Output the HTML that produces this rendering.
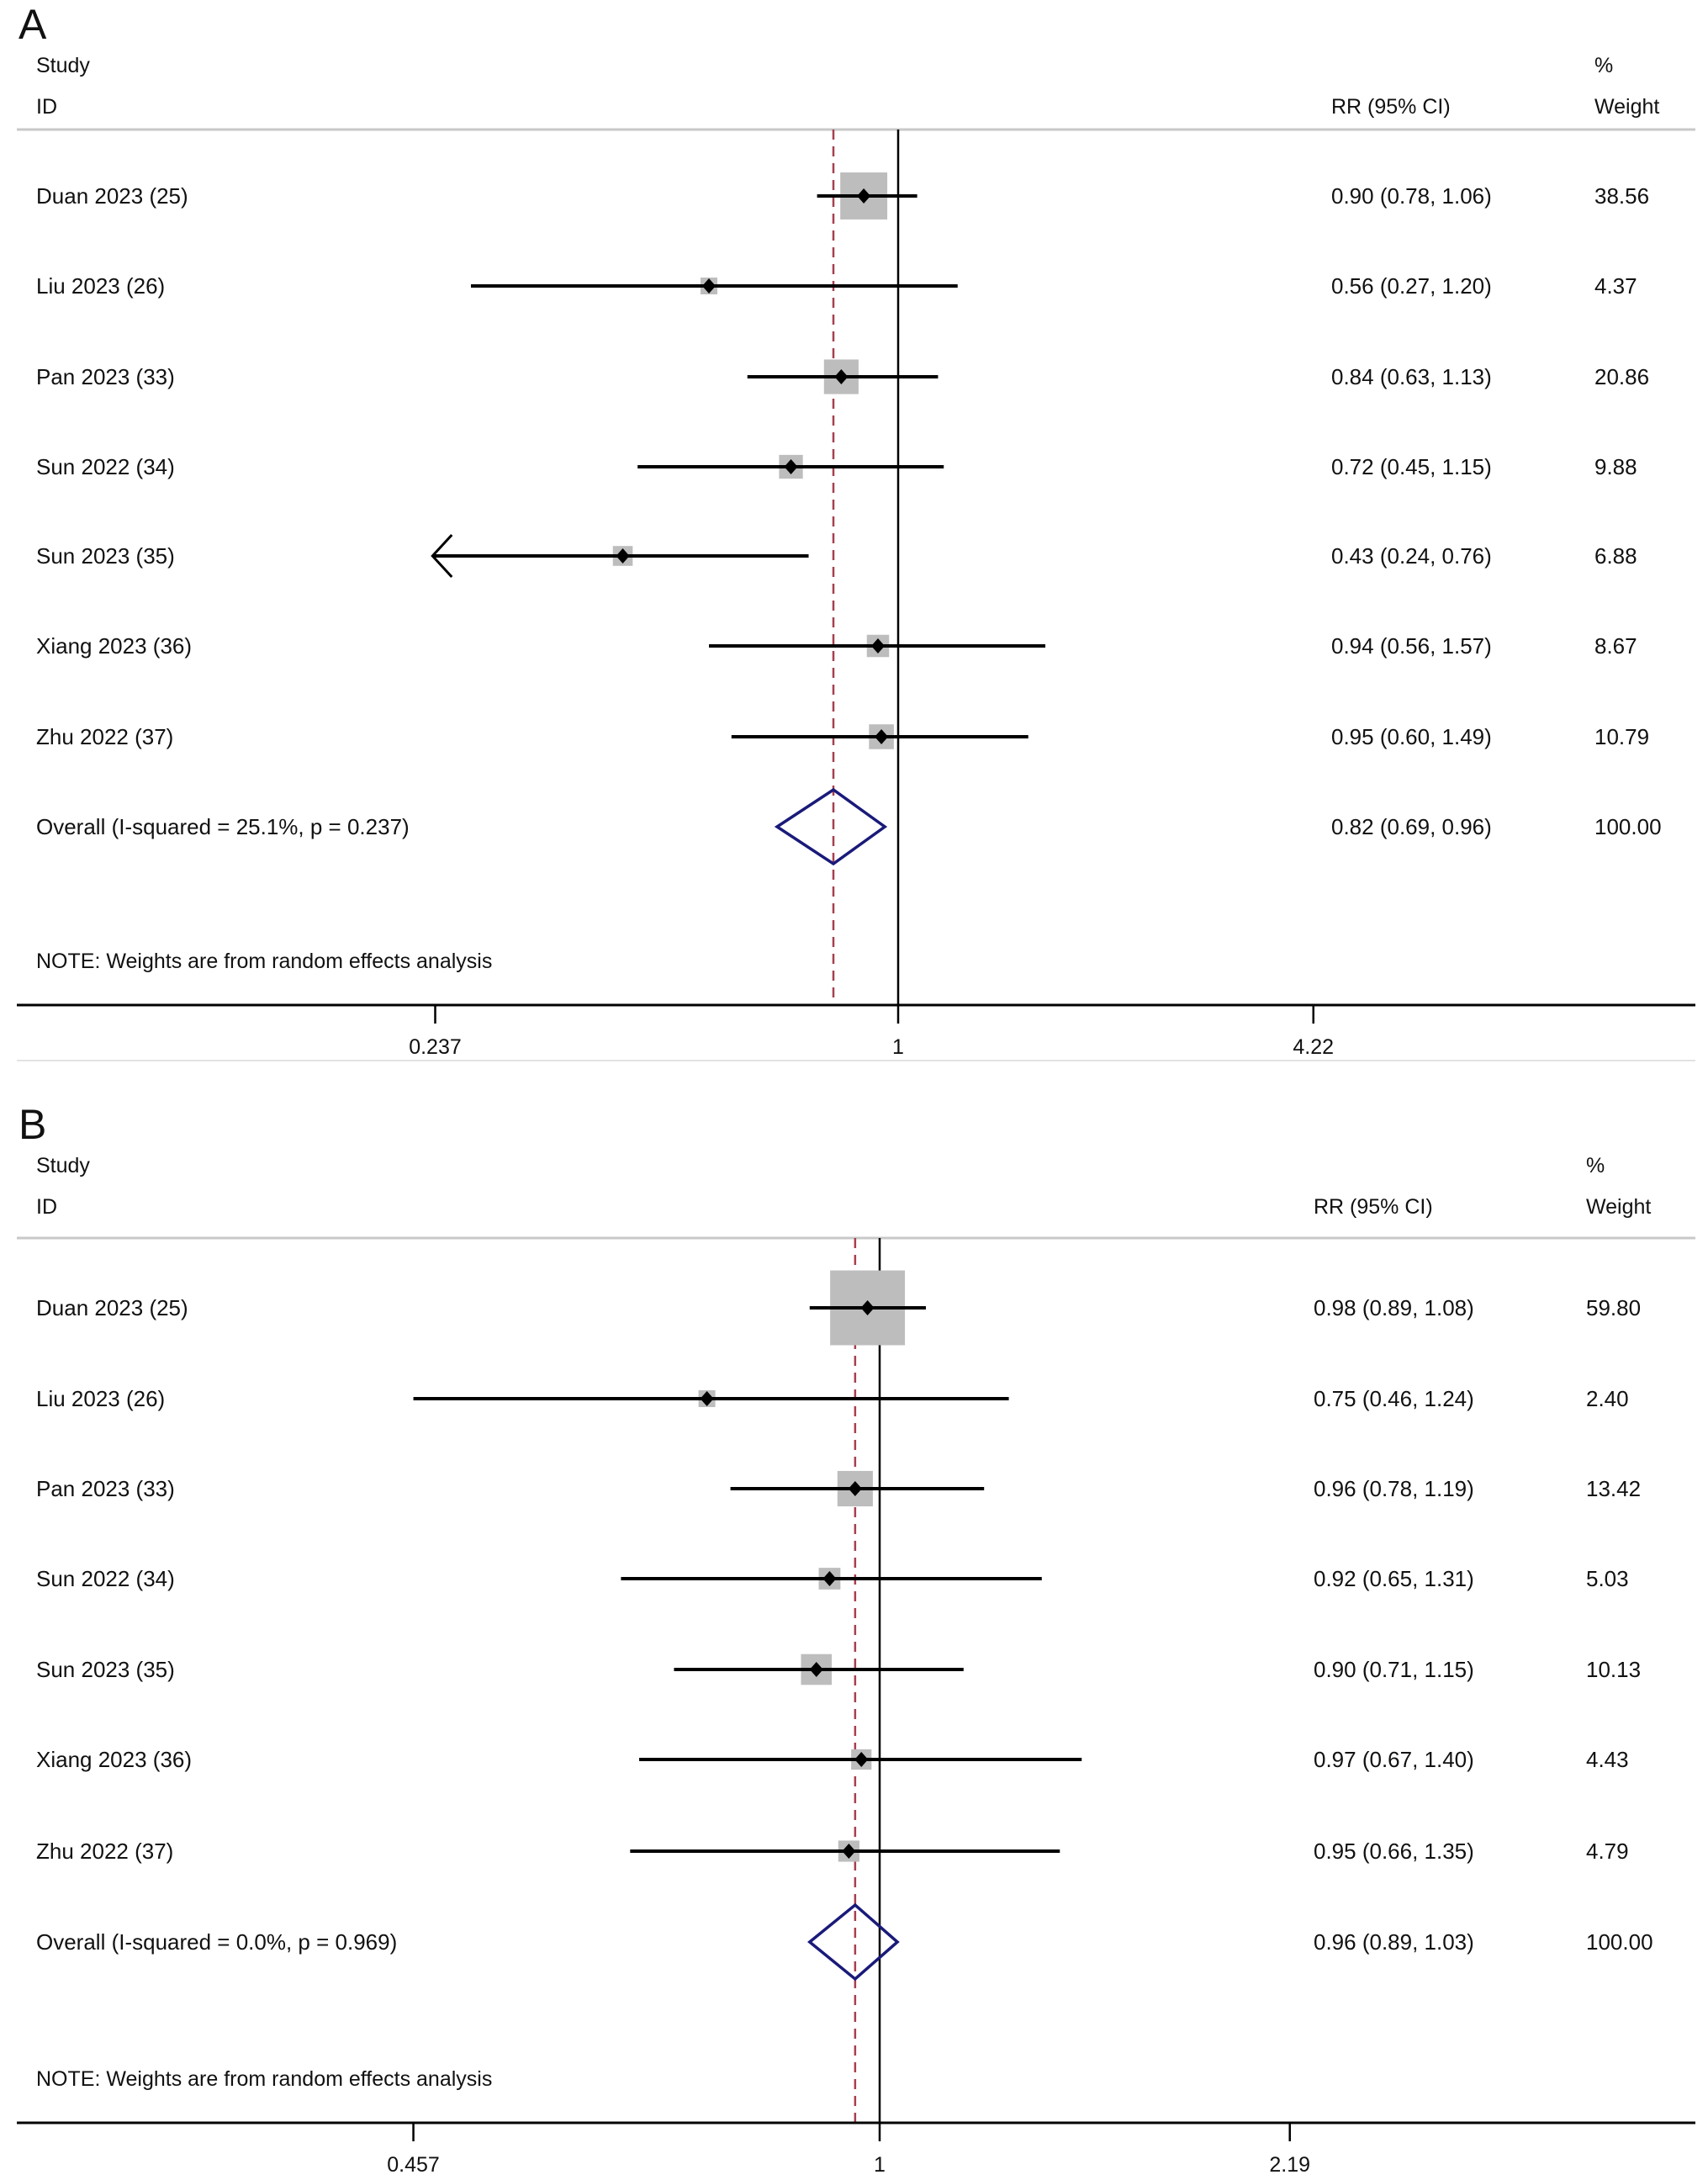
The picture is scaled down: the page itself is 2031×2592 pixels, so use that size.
<!DOCTYPE html>
<html><head><meta charset="utf-8"><style>
html,body{margin:0;padding:0;background:#fff;}
svg{display:block;font-family:"Liberation Sans",Arial,sans-serif;}
</style></head><body>
<svg id="chart" width="2031" height="2592" viewBox="0 0 2031 2592" xmlns="http://www.w3.org/2000/svg"></svg>
<script>
const studies = ["Duan 2023 (25)","Liu 2023 (26)","Pan 2023 (33)","Sun 2022 (34)","Sun 2023 (35)","Xiang 2023 (36)","Zhu 2022 (37)"];
const rrA = [0.90,0.56,0.84,0.72,0.43,0.94,0.95];
const loA = [0.78,0.27,0.63,0.45,0.24,0.56,0.60];
const hiA = [1.06,1.20,1.13,1.15,0.76,1.57,1.49];
const wA  = [38.56,4.37,20.86,9.88,6.88,8.67,10.79];
const ciTextA = ["0.90 (0.78, 1.06)","0.56 (0.27, 1.20)","0.84 (0.63, 1.13)","0.72 (0.45, 1.15)","0.43 (0.24, 0.76)","0.94 (0.56, 1.57)","0.95 (0.60, 1.49)"];
const wTextA = ["38.56","4.37","20.86","9.88","6.88","8.67","10.79"];
const overallA = [0.82,0.69,0.96];
const overallTextA = ["Overall  (I-squared = 25.1%, p = 0.237)","0.82 (0.69, 0.96)","100.00"];
const tickValsA = [0.242,1,3.57];
const tickLabelsA = ["0.237","1","4.22"];

const rrB = [0.98,0.75,0.96,0.92,0.90,0.97,0.95];
const loB = [0.89,0.46,0.78,0.65,0.71,0.67,0.66];
const hiB = [1.08,1.24,1.19,1.31,1.15,1.40,1.35];
const wB  = [59.80,2.40,13.42,5.03,10.13,4.43,4.79];
const ciTextB = ["0.98 (0.89, 1.08)","0.75 (0.46, 1.24)","0.96 (0.78, 1.19)","0.92 (0.65, 1.31)","0.90 (0.71, 1.15)","0.97 (0.67, 1.40)","0.95 (0.66, 1.35)"];
const wTextB = ["59.80","2.40","13.42","5.03","10.13","4.43","4.79"];
const overallB = [0.96,0.89,1.03];
const overallTextB = ["Overall  (I-squared = 0.0%, p = 0.969)","0.96 (0.89, 1.03)","100.00"];
const tickValsB = [0.460,1,1.98];
const tickLabelsB = ["0.457","1","2.19"];

const svg = document.getElementById('chart');
const NS = "http://www.w3.org/2000/svg";
function mk(tag, attrs, parent){
  const e = document.createElementNS(NS, tag);
  for (const k in attrs) e.setAttribute(k, attrs[k]);
  (parent||svg).appendChild(e); return e;
}
function txt(x,y,s,size,parent,anchor){
  const t = mk('text',{x:x,y:y,'font-size':size||26,fill:'#111','text-anchor':anchor||'start'},parent);
  t.textContent = s; return t;
}

function panel(cfg){
  const g = mk('g',{});
  
  
  const X = v => cfg.a + cfg.b*Math.log(v);
  const T = cfg.top;
  const letter = txt(22, T+26, cfg.letter, 50, g);
  
  
  const h1 = txt(43, T+66, "Study", 25, g);  
  const h2 = txt(43, T+115, "ID", 25, g);  
  const h3 = txt(cfg.ciX, T+115, "RR (95% CI)", 25, g);  
  const h4 = txt(cfg.wX, T+66, "%", 25, g);  
  const h5 = txt(cfg.wX, T+115, "Weight", 25, g);  
  const hl = mk('line',{x1:20,x2:2016,y1:cfg.headY,y2:cfg.headY,stroke:'#c8c8c8','stroke-width':3},g);
   
  const nl = mk('line',{x1:X(1),x2:X(1),y1:cfg.headY,y2:cfg.axisY,stroke:'#000','stroke-width':2.5},g);
   
  const dl = mk('line',{x1:X(cfg.ov[0]),x2:X(cfg.ov[0]),y1:cfg.headY,y2:cfg.axisY,stroke:'#a5404f','stroke-width':2.5,'stroke-dasharray':'12,8'},g);
   
  for (let i=0;i<studies.length;i++){
    const y = cfg.rows[i];
    const r = mk('g',{},g);
    
    
    txt(43, y+9, studies[i], 26, r);
    txt(cfg.ciX, y+9, cfg.ci[i], 26, r);
    txt(cfg.wX, y+9, cfg.wt[i], 26, r);
    const s = Math.max(cfg.k*Math.sqrt(cfg.w[i]), 20);
    const sq = mk('rect',{x:X(cfg.rr[i])-s/2,y:y-s/2,width:s,height:s,fill:'#bdbdbd'},r);
     
    const lo = X(cfg.lo[i]); const hi = X(cfg.hi[i]);
    const ci = mk('line',{x1:lo,x2:hi,y1:y,y2:y,stroke:'#000','stroke-width':4},r);
     
    if (cfg.arrow && i===cfg.arrow){
      const ar = mk('polyline',{points:`${lo+23},${y-25} ${lo},${y} ${lo+23},${y+25}`,fill:'none',stroke:'#000','stroke-width':3},r);
       
    }
    const px = X(cfg.rr[i]);
    const pt = mk('polygon',{points:`${px},${y-9} ${px+8},${y} ${px},${y+9} ${px-8},${y}`,fill:'#000'},r);
     
  }
  const oy = cfg.ovY;
  const og = mk('g',{},g);
   
  txt(43, oy+9, cfg.ovText[0], 26, og);
  txt(cfg.ciX, oy+9, cfg.ovText[1], 26, og);
  txt(cfg.wX, oy+9, cfg.ovText[2], 26, og);
  const dm = mk('polygon',{points:`${X(cfg.ov[1])},${oy} ${X(cfg.ov[0])},${oy-44} ${X(cfg.ov[2])},${oy} ${X(cfg.ov[0])},${oy+44}`,fill:'none',stroke:'#1a1a7a','stroke-width':3.5},og);
   
  const nt = txt(43, cfg.noteY+9, "NOTE: Weights are from random effects analysis", 25, g);
   
  const ax = mk('line',{x1:20,x2:2016,y1:cfg.axisY,y2:cfg.axisY,stroke:'#000','stroke-width':3},g);
   
  for (let j=0;j<cfg.ticks.length;j++){
    const tx = X(cfg.ticks[j]);
    const tk = mk('line',{x1:tx,x2:tx,y1:cfg.axisY,y2:cfg.axisY+22,stroke:'#000','stroke-width':2.5},g);
     
    const tl = txt(tx, cfg.axisY+58, cfg.tickLabels[j], 25, g, 'middle');
     
  }
  if (cfg.bottomRule){
    const br = mk('line',{x1:20,x2:2016,y1:cfg.bottomRule,y2:cfg.bottomRule,stroke:'#e2e2e2','stroke-width':2},g);
     
  }
}

panel({name:'panel-a',letter:'A',top:20,headY:154,axisY:1195,a:1068,b:388,
  rows:[233,340,448,555,661,768,876],ovY:983,noteY:1142,ciX:1583,wX:1896,k:9,
  rr:rrA,lo:loA,hi:hiA,w:wA,ci:ciTextA,wt:wTextA,ov:overallA,ovText:overallTextA,
  ticks:tickValsA,tickLabels:tickLabelsA,arrow:4,bottomRule:1261});
panel({name:'panel-b',letter:'B',top:1328,headY:1472,axisY:2524,a:1046,b:714,
  rows:[1555,1663,1770,1877,1985,2092,2201],ovY:2309,noteY:2471,ciX:1562,wX:1886,k:11.5,
  rr:rrB,lo:loB,hi:hiB,w:wB,ci:ciTextB,wt:wTextB,ov:overallB,ovText:overallTextB,
  ticks:tickValsB,tickLabels:tickLabelsB,arrow:null,bottomRule:null});
</script>
</body></html>
